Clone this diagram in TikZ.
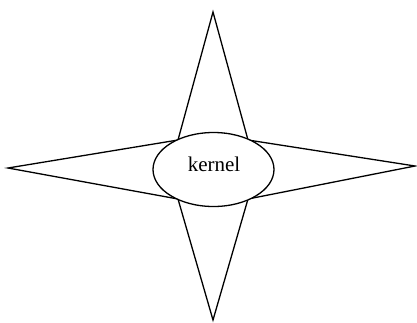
\documentclass[tikz,border=0pt]{standalone}
\usepackage{fontspec}
\setmainfont{Liberation Serif}
\usetikzlibrary{shapes.geometric}
\tikzset{
  starline/.style={draw=black, line width=1.3pt, line join=miter},
  kern/.style={ellipse, draw=black, fill=white, line width=1.3pt, minimum width=121pt, minimum height=74pt, inner sep=0pt},
  kerntext/.style={inner sep=0pt, font=\fontsize{21}{25}\selectfont}
}
\begin{document}
\begin{tikzpicture}[x=1pt,y=-1pt]
\useasboundingbox (0,0) rectangle (417,322);
\coordinate (top) at (213,12);
\coordinate (left) at (8,168);
\coordinate (bottom) at (213,320);
\coordinate (right) at (415,166);
\coordinate (tl) at (178,140);
\coordinate (bl) at (178,199);
\coordinate (br) at (248,199);
\coordinate (tr) at (248,140);
\draw[starline] (top) -- (tl) -- (left) -- (bl) -- (bottom) -- (br) -- (right) -- (tr) -- cycle;
\node[kern] (k) at (213.5,169.5) {};
\node[kerntext, anchor=base] (kt) at (214,171.7) {kernel};
\end{tikzpicture}
\end{document}
